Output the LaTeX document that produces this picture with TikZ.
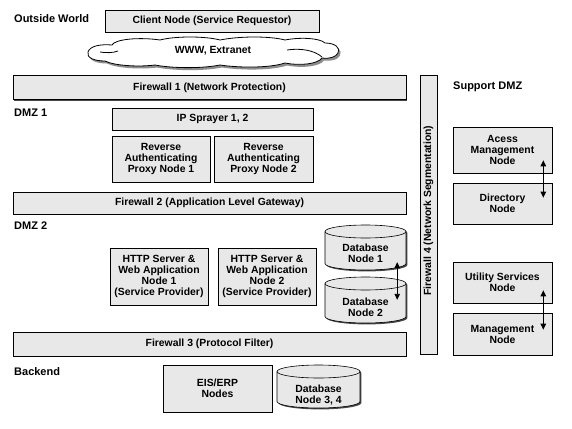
\documentclass[tikz,border=0pt]{standalone}
\usepackage{fontspec}
\setmainfont{Liberation Sans}
\usetikzlibrary{shadows,arrows.meta}
\definecolor{boxgray}{RGB}{232,232,232}
\definecolor{shadowgray}{RGB}{70,70,70}
\newcommand{\lblfont}{\fontsize{10.4}{11}\selectfont\bfseries}
\newcommand{\zonefont}{\fontsize{11}{12}\selectfont\bfseries}
\tikzset{
  x=1pt, y=1pt,
  shd/.style={drop shadow={shadow xshift=1.4pt, shadow yshift=-1.4pt, fill=shadowgray, opacity=1}},
  box/.style={draw=black, line width=0.6pt, fill=boxgray, shd, inner sep=0pt, align=center, font=\lblfont},
  zone/.style={anchor=west, inner sep=0pt, font=\zonefont},
  txt/.style={inner sep=0pt, align=center, font=\lblfont},
  dar/.style={line width=0.9pt, {Triangle[width=5.5pt,length=6pt]}-{Triangle[width=5.5pt,length=6pt]}},
  hole/.style={inner sep=0pt, draw=none},
  cloudline/.style={draw=black, line width=0.8pt},
  pics/dbcyl/.style 2 args={code={
    \begin{scope}[shift={(1.4,-1.4)}]
      \fill[shadowgray] ({-#1/2},{#2/2-6.5}) -- ({-#1/2},{-#2/2+6.5}) arc[start angle=180,end angle=360,x radius={#1/2},y radius=6.5] -- ({#1/2},{#2/2-6.5}) arc[start angle=0,end angle=180,x radius={#1/2},y radius=6.5] -- cycle;
    \end{scope}
    \path[draw=black, line width=0.6pt, fill=boxgray] ({-#1/2},{#2/2-6.5}) -- ({-#1/2},{-#2/2+6.5}) arc[start angle=180,end angle=360,x radius={#1/2},y radius=6.5] -- ({#1/2},{#2/2-6.5}) arc[start angle=0,end angle=180,x radius={#1/2},y radius=6.5] -- cycle;
    \draw[line width=0.6pt] ({-#1/2},{#2/2-6.5}) arc[start angle=180,end angle=360,x radius={#1/2},y radius=6.5];
  }}
}
\begin{document}
\begin{tikzpicture}
\useasboundingbox[fill=white] (0,0) rectangle (572,-428);

% zone labels
\node[zone] (lout) at (14,-19) {Outside World};
\node[zone] (ldmz1) at (14,-113) {DMZ 1};
\node[zone] (ldmz2) at (14,-226) {DMZ 2};
\node[zone] (lback) at (14,-372) {Backend};
\node[zone] (lsup) at (453,-87) {Support DMZ};

% outside world
\node[box, minimum width=214, minimum height=22] (client) at (212,-21) {Client Node (Service Requestor)};

% cloud
\begin{scope}[shift={(2,-2.5)}]
\fill[black!45]
  (88,-52) .. controls (90,-46) and (100,-44) .. (112,-45)
  .. controls (115,-39) and (140,-37) .. (160,-40)
  .. controls (175,-36) and (205,-36) .. (220,-40)
  .. controls (240,-36) and (270,-36) .. (285,-40)
  .. controls (300,-37) and (320,-38) .. (325,-43)
  .. controls (335,-43) and (341,-48) .. (338,-53)
  .. controls (336,-57) and (330,-59) .. (322,-58)
  .. controls (318,-64) and (300,-66) .. (285,-63)
  .. controls (270,-68) and (240,-68) .. (220,-65)
  .. controls (200,-69) and (170,-68) .. (155,-65)
  .. controls (140,-67) and (115,-66) .. (105,-61)
  .. controls (95,-61) and (86,-58) .. (88,-52) -- cycle;
\end{scope}
\path[cloudline, fill=white]
  (88,-52) .. controls (90,-46) and (100,-44) .. (112,-45)
  .. controls (115,-39) and (140,-37) .. (160,-40)
  .. controls (175,-36) and (205,-36) .. (220,-40)
  .. controls (240,-36) and (270,-36) .. (285,-40)
  .. controls (300,-37) and (320,-38) .. (325,-43)
  .. controls (335,-43) and (341,-48) .. (338,-53)
  .. controls (336,-57) and (330,-59) .. (322,-58)
  .. controls (318,-64) and (300,-66) .. (285,-63)
  .. controls (270,-68) and (240,-68) .. (220,-65)
  .. controls (200,-69) and (170,-68) .. (155,-65)
  .. controls (140,-67) and (115,-66) .. (105,-61)
  .. controls (95,-61) and (86,-58) .. (88,-52) -- cycle;
\draw[cloudline] (100,-52) .. controls (106,-53) and (113,-53) .. (118,-51);
\draw[cloudline] (287,-50) .. controls (300,-48) and (314,-50) .. (322,-57);
\node[txt] (www) at (213,-51) {WWW, Extranet};

% firewalls
\node[box, minimum width=393, minimum height=24] (fw1) at (209.5,-87.5) {Firewall 1 (Network Protection)};
\node[box, minimum width=393, minimum height=22] (fw2) at (209.5,-203) {Firewall 2 (Application Level Gateway)};
\node[box, minimum width=393, minimum height=24] (fw3) at (209.5,-344) {Firewall 3 (Protocol Filter)};
\node[box, minimum width=17, minimum height=279] (fw4) at (428.5,-214.5) {};
\node[txt, rotate=90] (fw4t) at ([yshift=4pt]fw4.center) {Firewall 4 (Network Segmentation)};

% DMZ 1
\node[box, minimum width=201, minimum height=22] (ips) at (212.5,-119) {IP Sprayer 1, 2};
\node[box, minimum width=98, minimum height=46] (rp1) at (161,-159) {Reverse\\Authenticating\\Proxy Node 1};
\node[box, minimum width=99, minimum height=46] (rp2) at (263.5,-159) {Reverse\\Authenticating\\Proxy Node 2};

% DMZ 2
\node[box, minimum width=98, minimum height=57] (http1) at (159,-276.5) {HTTP Server \&\\Web Application\\Node 1\\(Service Provider)};
\node[box, minimum width=98, minimum height=57] (http2) at (267,-276.5) {HTTP Server \&\\Web Application\\Node 2\\(Service Provider)};

\pic at (365.5,-247.5) {dbcyl={81}{45}};
\node[hole, minimum width=81, minimum height=45] (db1) at (365.5,-247.5) {};
\node[txt] (db1t) at (365.5,-253) {Database\\Node 1};
\pic at (365.5,-300) {dbcyl={81}{46}};
\node[hole, minimum width=81, minimum height=46] (db2) at (365.5,-300) {};
\node[txt] (db2t) at (365.5,-307) {Database\\Node 2};
\draw[dar] ([xshift=-9pt,yshift=8pt]db1.south east) -- ([xshift=-9pt,yshift=-23pt]db2.north east);

% Backend
\node[box, minimum width=109, minimum height=47] (eis) at (217.5,-388.5) {EIS/ERP\\Nodes};
\pic at (318.5,-386.5) {dbcyl={83}{43}};
\node[hole, minimum width=83, minimum height=43] (db34) at (318.5,-386.5) {};
\node[txt] (db34t) at (318.5,-395) {Database\\Node 3, 4};

% Support DMZ
\node[box, minimum width=99, minimum height=46] (acc) at (502.5,-150) {Acess\\Management\\Node};
\node[box, minimum width=99, minimum height=41] (dir) at (502.5,-203.5) {Directory\\Node};
\node[box, minimum width=99, minimum height=41] (util) at (502.5,-282.5) {Utility Services\\Node};
\node[box, minimum width=99, minimum height=42] (mgmt) at (502.5,-334) {Management\\Node};
\draw[dar] ([xshift=-9pt,yshift=13pt]acc.south east) -- ([xshift=-9pt,yshift=-15pt]dir.north east);
\draw[dar] ([xshift=-9pt,yshift=13pt]util.south east) -- ([xshift=-9pt,yshift=-17pt]mgmt.north east);
\end{tikzpicture}
\end{document}
